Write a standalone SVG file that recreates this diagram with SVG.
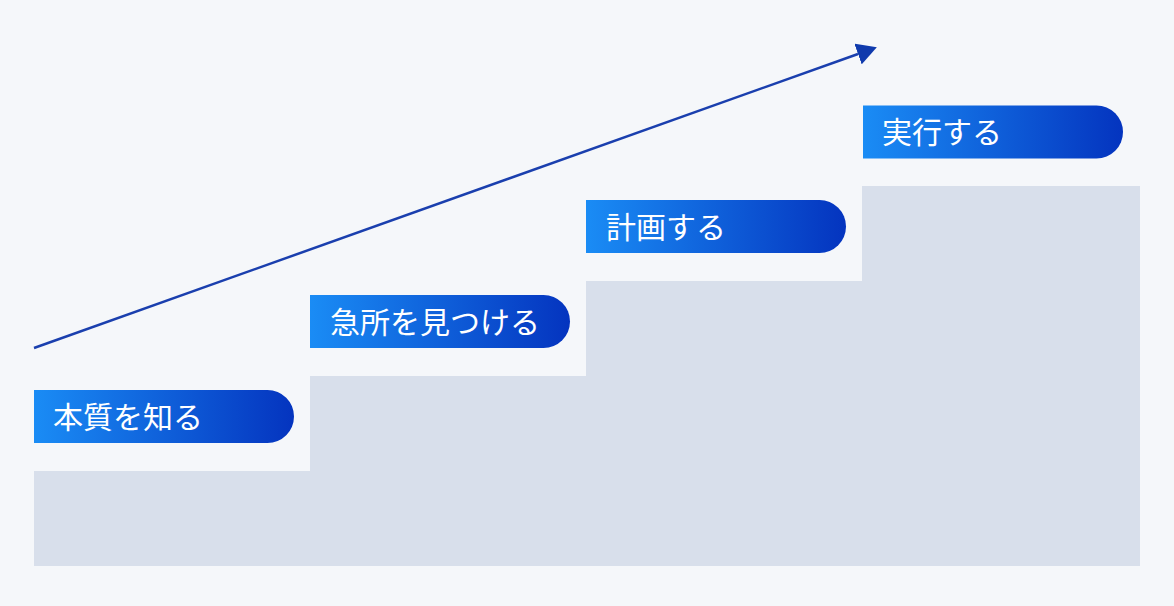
<svg xmlns="http://www.w3.org/2000/svg" width="1174" height="606" viewBox="0 0 1174 606">
<defs>
<linearGradient id="g" x1="0" y1="0" x2="1" y2="0">
<stop offset="0" stop-color="#1a8cf5"/>
<stop offset="1" stop-color="#0434bf"/>
</linearGradient>
<marker id="ah" markerUnits="userSpaceOnUse" markerWidth="22" markerHeight="22" refX="0" refY="11" orient="auto" viewBox="0 0 22 22">
<path d="M0,0 L20,11 L0,22 z" fill="#0f3aad"/>
</marker>
<style>
.lbl{fill:#fff;font-family:"Noto Sans CJK JP","Noto Sans",sans-serif;font-size:30px;font-weight:400;}
.step{fill:url(#g);}
</style>
</defs>
<rect width="1174" height="606" fill="#f5f7fa"/>
<path d="M34,566 V471 H310 V376 H586 V281 H862 V186 H1140 V566 Z" fill="#d8dfeb"/>
<g id="connectors">
<line x1="34" y1="348" x2="858" y2="54" stroke="#1a3fae" stroke-width="2.5" marker-end="url(#ah)"/>
</g>
<g id="n1">
<path class="step" d="M34,390 H267.5 A26.5,26.5 0 0 1 267.5,443 H34 Z"/>
<text class="lbl" x="53" y="428">本質を知る</text>
</g>
<g id="n2">
<path class="step" d="M310,295 H543.5 A26.5,26.5 0 0 1 543.5,348 H310 Z"/>
<text class="lbl" x="330" y="333">急所を見つける</text>
</g>
<g id="n3">
<path class="step" d="M586,200 H819.5 A26.5,26.5 0 0 1 819.5,253 H586 Z"/>
<text class="lbl" x="606" y="238">計画する</text>
</g>
<g id="n4">
<path class="step" d="M863,105.5 H1096.5 A26.5,26.5 0 0 1 1096.5,158.5 H863 Z"/>
<text class="lbl" x="882" y="143">実行する</text>
</g>
</svg>
